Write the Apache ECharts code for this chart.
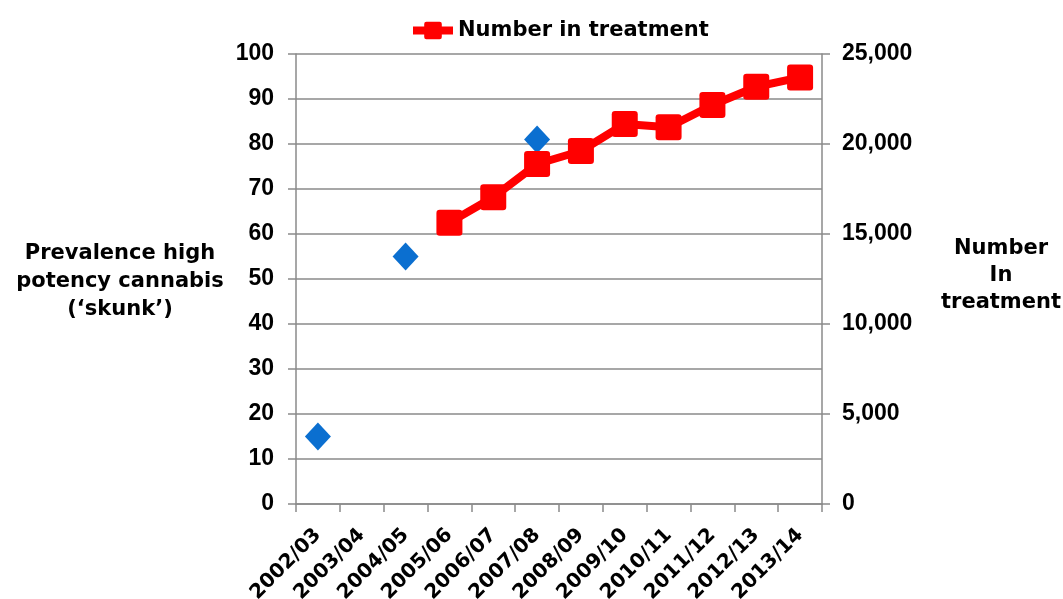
<!DOCTYPE html>
<html>
<head>
<meta charset="utf-8">
<script src="https://cdn.jsdelivr.net/npm/echarts@6/dist/echarts.min.js"></script>
<style>
html,body{margin:0;padding:0;background:#fff;}
#chart{width:1063px;height:599px;}
</style>
</head>
<body>
<div id="chart"></div>
<script>
const categories = ['2002/03','2003/04','2004/05','2005/06','2006/07','2007/08','2008/09','2009/10','2010/11','2011/12','2012/13','2013/14'];
const skunkPrevalence = [15, null, 55, null, null, 81, null, null, null, null, null, null];
const numberInTreatment = [null, null, null, 15630, 17040, 18890, 19610, 21110, 20930, 22170, 23180, 23700];
const leftTicks = {min: 0, max: 100, interval: 10};
const rightTicks = {min: 0, max: 25000, interval: 5000};

const FONT_WIDE = '"DejaVu Sans", "Liberation Sans", Arial, sans-serif';
const FONT_TICK = '"Liberation Sans", Arial, sans-serif';
const axisGrey = '#8a8a8a';
const squareSymbol = 'path://M3,0 H21 Q24,0 24,3 V21 Q24,24 21,24 H3 Q0,24 0,21 V3 Q0,0 3,0 Z';

const chart = echarts.init(document.getElementById('chart'), null, {renderer: 'canvas'});
chart.setOption({
  animation: false,
  backgroundColor: '#ffffff',
  grid: {left: 296, right: 241, top: 54, bottom: 95, containLabel: false, outerBoundsMode: 'none'},
  legend: {
    top: 15,
    left: 404,
    itemWidth: 40,
    itemHeight: 22,
    lineStyle: {width: 8},
    textStyle: {fontFamily: FONT_WIDE, fontWeight: 'bold', fontSize: 21, color: '#000'},
    data: ['Number in treatment']
  },
  xAxis: {
    type: 'category',
    data: categories,
    boundaryGap: true,
    axisLine: {show: true, lineStyle: {color: axisGrey, width: 1.5}},
    axisTick: {show: true, alignWithLabel: false, length: 8, lineStyle: {color: axisGrey, width: 1.5}},
    axisLabel: {interval: 0, rotate: 45, margin: 28, fontFamily: FONT_WIDE, fontWeight: 'bold', fontSize: 20, color: '#000'},
    splitLine: {show: false}
  },
  yAxis: [
    {
      type: 'value',
      position: 'left',
      min: leftTicks.min, max: leftTicks.max, interval: leftTicks.interval,
      axisLine: {show: true, lineStyle: {color: axisGrey, width: 1.5}},
      axisTick: {show: true, length: 8, lineStyle: {color: axisGrey, width: 1.5}},
      axisLabel: {margin: 22, fontFamily: FONT_TICK, fontWeight: 'bold', fontSize: 23, color: '#000'},
      splitLine: {show: true, lineStyle: {color: axisGrey, width: 1.5}}
    },
    {
      type: 'value',
      position: 'right',
      min: rightTicks.min, max: rightTicks.max, interval: rightTicks.interval,
      axisLine: {show: true, lineStyle: {color: axisGrey, width: 1.5}},
      axisTick: {show: true, length: 8, lineStyle: {color: axisGrey, width: 1.5}},
      axisLabel: {
        margin: 20, fontFamily: FONT_TICK, fontWeight: 'bold', fontSize: 23, color: '#000',
        formatter: v => v.toLocaleString('en-US')
      },
      splitLine: {show: false}
    }
  ],
  series: [
    {
      name: 'Prevalence high potency cannabis',
      type: 'scatter',
      yAxisIndex: 0,
      data: skunkPrevalence,
      symbol: 'diamond',
      symbolSize: [26, 28],
      itemStyle: {color: '#0B6FD0', opacity: 1, borderWidth: 0},
      z: 3
    },
    {
      name: 'Number in treatment',
      type: 'line',
      yAxisIndex: 1,
      data: numberInTreatment,
      symbol: squareSymbol,
      symbolSize: 26,
      showSymbol: true,
      lineStyle: {color: '#FF0000', width: 8},
      itemStyle: {color: '#FF0000', borderWidth: 0},
      z: 4
    }
  ],
  graphic: [
    {
      type: 'text',
      x: 120, y: 282,
      style: {
        text: 'Prevalence high\npotency cannabis\n(\u2018skunk\u2019)',
        align: 'center', verticalAlign: 'middle',
        fontFamily: FONT_WIDE, fontWeight: 'bold', fontSize: 21, lineHeight: 28,
        fill: '#000'
      }
    },
    {
      type: 'text',
      x: 1001, y: 276,
      style: {
        text: 'Number\nIn\ntreatment',
        align: 'center', verticalAlign: 'middle',
        fontFamily: FONT_WIDE, fontWeight: 'bold', fontSize: 21, lineHeight: 27,
        fill: '#000'
      }
    }
  ]
});
</script>
</body>
</html>
